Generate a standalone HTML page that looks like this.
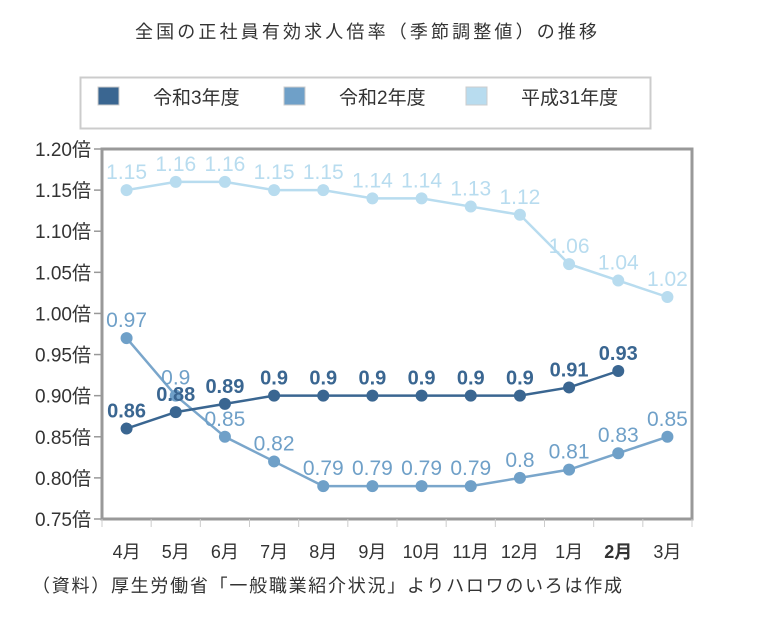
<!DOCTYPE html>
<html><head><meta charset="utf-8"><style>
body{margin:0;background:#fff;width:757px;height:613px;overflow:hidden;font-family:"Liberation Sans","Noto Sans CJK JP",sans-serif}
</style></head><body>
<svg width="757" height="613" style="font-family:'Liberation Sans','Noto Sans CJK JP',sans-serif">
<text x="135" y="38" font-size="18" textLength="462" lengthAdjust="spacing" fill="#333">全国の正社員有効求人倍率（季節調整値）の推移</text>
<rect x="80.5" y="77.5" width="570" height="51" fill="#fff" stroke="#ccc" stroke-width="2"/>
<g id="legend"></g>
<g id="plot"></g>
<text x="32" y="592" font-size="18" textLength="590" lengthAdjust="spacing" fill="#333">（資料）厚生労働省「一般職業紹介状況」よりハロワのいろは作成</text>
</svg>
<script>
const categories=["4月","5月","6月","7月","8月","9月","10月","11月","12月","1月","2月","3月"];
const seriesNames=["令和3年度","令和2年度","平成31年度"];
const r3=[0.86,0.88,0.89,0.9,0.9,0.9,0.9,0.9,0.9,0.91,0.93,null];
const r2=[0.97,0.9,0.85,0.82,0.79,0.79,0.79,0.79,0.8,0.81,0.83,0.85];
const h31=[1.15,1.16,1.16,1.15,1.15,1.14,1.14,1.13,1.12,1.06,1.04,1.02];
const yTicks=[0.75,0.8,0.85,0.9,0.95,1.0,1.05,1.1,1.15,1.2];
const NS="http://www.w3.org/2000/svg";
const L=102,R=692,T=149,B=519,ymin=0.75,ymax=1.2;
const step=(R-L)/categories.length;
const xs=i=>L+step*(i+0.5);
const ys=v=>B-(v-ymin)/(ymax-ymin)*(B-T);
const plot=document.getElementById('plot');
function mk(tag,attrs,parent){const e=document.createElementNS(NS,tag);for(const k in attrs)e.setAttribute(k,attrs[k]);(parent||plot).appendChild(e);return e;}
let fr=mk('rect',{x:L,y:T,width:R-L,height:B-T,fill:'#fff',stroke:'#999','stroke-width':3});


mk('line',{x1:L,y1:T,x2:L,y2:B+1,stroke:'#999','stroke-width':3});
mk('line',{x1:L-1,y1:B,x2:R,y2:B,stroke:'#999','stroke-width':3});
yTicks.forEach(v=>{
 mk('line',{x1:L-8,y1:ys(v),x2:L,y2:ys(v),stroke:'#999','stroke-width':1.5});
 const t=mk('text',{x:L-11,y:ys(v)+7,'font-size':19,'text-anchor':'end',fill:'#333'});
 t.textContent=v.toFixed(2)+'倍';
 
 
});
categories.forEach((c,i)=>{
 mk('line',{x1:L+step*i,y1:B,x2:L+step*i,y2:B+8,stroke:'#ccc','stroke-width':1});
 const t=mk('text',{x:xs(i),y:558,'font-size':18,'text-anchor':'middle',fill:'#333','font-weight':c==='2月'?'bold':'normal'});
 t.textContent=c;
 
 
});
mk('line',{x1:R,y1:B,x2:R,y2:B+8,stroke:'#ccc','stroke-width':1});
const styles=[{d:r3,c:'#3a6691',lc:'#3a6691',fs:20,bold:true},{d:r2,c:'#6fa0c8',lc:'#7aa6cb',fs:21,bold:false},{d:h31,c:'#b8dcef',lc:'#b8dcef',fs:21,bold:false}];
[2,1,0].forEach(si=>{
 const s=styles[si];
 const g=mk('g',{});
 
 
 let d='';
 s.d.forEach((v,i)=>{if(v==null)return;d+=(d?'L':'M')+xs(i)+','+ys(v);});
 mk('path',{d:d,fill:'none',stroke:s.lc,'stroke-width':2.5},g);
 s.d.forEach((v,i)=>{if(v==null)return;
  const p=mk('circle',{cx:xs(i),cy:ys(v),r:6,fill:s.c},g);
  
  
 });
 s.d.forEach((v,i)=>{if(v==null)return;
  const t=mk('text',{x:xs(i),y:ys(v)-11,'font-size':s.fs,'text-anchor':'middle',fill:s.c,'font-weight':s.bold?'bold':'normal'},g);
  t.textContent=String(v);
  
  
 });
});
const lg=document.getElementById('legend');
const lx=[98,284,466],lc=['#3a6691','#6fa0c8','#b8dcef'];
seriesNames.forEach((n,i)=>{
 const r=mk('rect',{x:lx[i],y:87,width:21,height:18,fill:lc[i],stroke:'#ccc','stroke-width':1},lg);
 
 
 const t=mk('text',{x:lx[i]+55,y:104,'font-size':19,fill:'#333'},lg);
 t.textContent=n;
 
 
});
</script>
</body></html>
